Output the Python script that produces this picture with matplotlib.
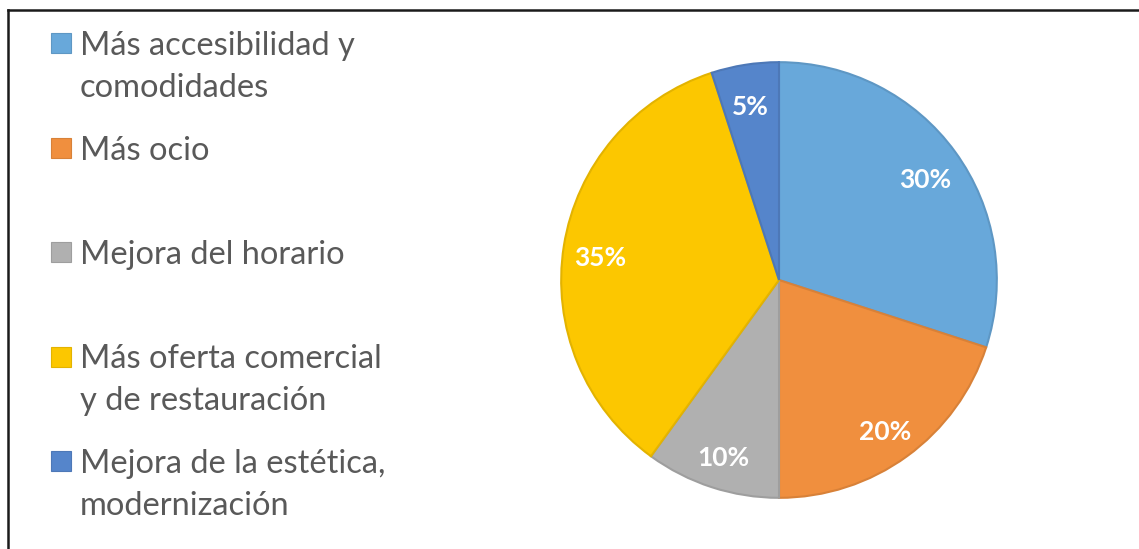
import matplotlib
matplotlib.use("Agg")
import matplotlib.pyplot as plt
from matplotlib.patches import Rectangle
from matplotlib.lines import Line2D
import matplotlib.colors as mcolors
import matplotlib.transforms as mtransforms

categories = [
    "Más accesibilidad y\ncomodidades",
    "Más ocio",
    "Mejora del horario",
    "Más oferta comercial\ny de restauración",
    "Mejora de la estética,\nmodernización",
]
values = [30, 20, 10, 35, 5]
colors = ["#68A8DA", "#F08F3E", "#B0B0B0", "#FCC700", "#5585CB"]

W, H = 1139, 549
fig = plt.figure(figsize=(W / 100, H / 100), dpi=100)
fig.patch.set_facecolor("white")

# pie axes: centre (779, 280) px, radius 220 px
cx, cy, r = 779, 280, 220
ax = fig.add_axes([(cx - r) / W, (H - cy - r) / H, 2 * r / W, 2 * r / H])
wedges, texts, autotexts = ax.pie(
    values,
    colors=colors,
    startangle=90,
    counterclock=False,
    radius=1.0,
    autopct=lambda p: f"{p:.0f}%",
    pctdistance=0.83,
    wedgeprops=dict(linewidth=1.5),
    textprops=dict(color="white", fontsize=19, fontweight="bold", family="Lato"),
)
for w, c in zip(wedges, colors):
    rgb = mcolors.to_rgb(c)
    w.set_edgecolor(tuple(v * 0.9 for v in rgb))
# nudge the percentage labels slightly downwards
shift = mtransforms.ScaledTranslation(0, -6 / 100, fig.dpi_scale_trans)
for t in autotexts:
    t.set_transform(t.get_transform() + shift)
ax.set_xlim(-1.01, 1.01)
ax.set_ylim(-1.01, 1.01)
ax.set_aspect("equal")
ax.axis("off")

# legend on the left: one square per entry, text lines set on baselines
y0, step, line_gap = 43, 104.5, 42
for i, (lab, col) in enumerate(zip(categories, colors)):
    yc = y0 + i * step
    sq = 20
    fig.add_artist(Rectangle((51 / W, (H - yc - sq / 2) / H), sq / W, sq / H,
                             transform=fig.transFigure, facecolor=col,
                             edgecolor=tuple(v * 0.9 for v in mcolors.to_rgb(col)), lw=0.8))
    for j, line in enumerate(lab.split("\n")):
        yb = yc + 12 + j * line_gap
        fig.text(80 / W, (H - yb) / H, line, ha="left", va="baseline",
                 fontsize=23.5, color="#595959", family="Lato")

# frame lines
fig.add_artist(Line2D([8 / W, 1.0], [(H - 10) / H, (H - 10) / H],
                      transform=fig.transFigure, color="#1a1a1a", lw=1.8))
fig.add_artist(Line2D([8 / W, 8 / W], [0, (H - 10) / H],
                      transform=fig.transFigure, color="#1a1a1a", lw=1.8))

fig.savefig("out.png", dpi=100)
